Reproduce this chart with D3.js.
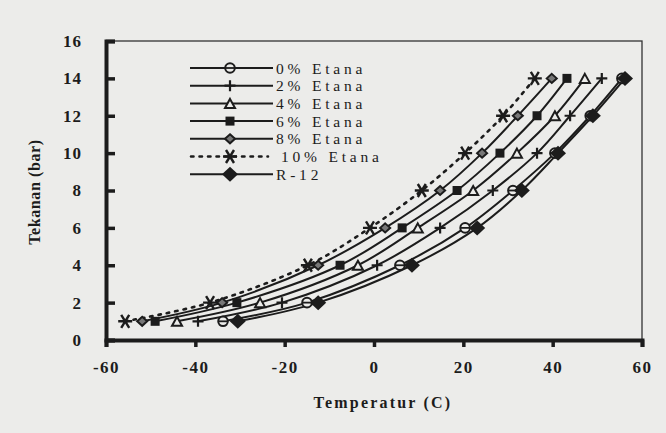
<!DOCTYPE html>
<html>
<head>
<meta charset="utf-8">
<script src="https://cdn.jsdelivr.net/npm/d3@7"></script>
<style>
  html, body { margin: 0; padding: 0; background: #ececea; }
  svg { display: block; }
</style>
</head>
<body>
<svg id="chart" width="666" height="433"></svg>
<script>
// ---- data ----
const pressures = [1, 2, 4, 6, 8, 10, 12, 14];
const seriesNames = ["0% Etana", "2% Etana", "4% Etana", "6% Etana", "8% Etana", "10% Etana", "R-12"];
const temp0 = [-33.8, -15.0, 5.8, 20.4, 31.1, 40.5, 48.4, 55.5];
const temp2 = [-39.4, -20.6, 0.7, 14.8, 26.6, 36.5, 43.9, 51.0];
const temp4 = [-44.1, -25.5, -3.6, 9.8, 22.2, 32.0, 40.5, 47.2];
const temp6 = [-49.0, -30.7, -7.6, 6.3, 18.6, 28.2, 36.5, 43.2];
const temp8 = [-51.9, -34.0, -12.5, 2.5, 14.8, 24.2, 32.2, 39.8];
const temp10 = [-55.7, -36.7, -14.8, -0.9, 10.7, 20.4, 28.9, 36.0];
const tempR12 = [-30.5, -12.5, 8.5, 23.1, 33.1, 41.2, 49.0, 56.2];
const xTicks = [-60, -40, -20, 0, 20, 40, 60];
const yTicks = [0, 2, 4, 6, 8, 10, 12, 14, 16];
const xTitle = "Temperatur (C)";
const yTitle = "Tekanan (bar)";

const allTemps = [temp0, temp2, temp4, temp6, temp8, temp10, tempR12];
const markerTypes = ["circle", "plus", "triangle", "square", "smalldiamond", "asterisk", "diamond"];

// ---- layout ----
const svg = d3.select("#chart");
const W = 666, H = 433;
const m = { left: 106, top: 41, right: 24, bottom: 93 };
const x = d3.scaleLinear().domain([-60, 60]).range([m.left, W - m.right]);
const y = d3.scaleLinear().domain([0, 16]).range([H - m.bottom, m.top]);
const ink = "#1c1c1c";
const bg = "#ececea";
const serif = "'Liberation Serif', 'DejaVu Serif', serif";

// frame (thin top & right)
svg.append("rect")
  .attr("x", x(-60)).attr("y", y(16))
  .attr("width", x(60) - x(-60)).attr("height", y(0) - y(16))
  .attr("fill", "none").attr("stroke", "#333").attr("stroke-width", 1.3);

// axes
const xAxis = d3.axisBottom(x).tickValues(xTicks).tickSize(7).tickPadding(14)
  .tickFormat(d3.format("d"));
const gx = svg.append("g").attr("transform", `translate(0,${y(0)})`).call(xAxis);
gx.select(".domain").attr("stroke", ink).attr("stroke-width", 4);
gx.selectAll(".tick line").attr("stroke", ink).attr("stroke-width", 3.5);
gx.selectAll(".tick text").attr("fill", ink)
  .style("font-family", serif).style("font-size", "17px").style("font-weight", "bold")
  .style("letter-spacing", "1.5px")
  .text(d => (d < 0 ? "-" + Math.abs(d) : d));

const yAxis = d3.axisLeft(y).tickValues(yTicks).tickSize(-9).tickPadding(24)
  .tickFormat(d3.format("d"));
const gy = svg.append("g").attr("transform", `translate(${x(-60)},0)`).call(yAxis);
gy.select(".domain").attr("stroke", ink).attr("stroke-width", 4);
gy.selectAll(".tick line").attr("stroke", ink).attr("stroke-width", 3.5);
gy.selectAll(".tick text").attr("fill", ink)
  .style("font-family", serif).style("font-size", "17px").style("font-weight", "bold")
  .style("letter-spacing", "1px");

// axis titles
svg.append("text")
  .attr("x", 383).attr("y", 408).attr("text-anchor", "middle")
  .attr("fill", ink)
  .style("font-family", serif).style("font-size", "16px").style("font-weight", "bold")
  .style("letter-spacing", "2.2px")
  .text(xTitle);
svg.append("text")
  .attr("transform", `translate(40,192) rotate(-90)`)
  .attr("text-anchor", "middle").attr("fill", ink)
  .style("font-family", serif).style("font-size", "16px").style("font-weight", "bold")
  .style("letter-spacing", "0.6px")
  .text(yTitle);

// ---- markers ----
function drawMarker(g, type, cx, cy) {
  const s = g.append("g").attr("transform", `translate(${cx},${cy})`);
  switch (type) {
    case "circle":
      s.append("circle").attr("r", 4.8).attr("fill", bg).attr("stroke", ink).attr("stroke-width", 2);
      s.append("line").attr("x1", -5).attr("x2", 5).attr("stroke", ink).attr("stroke-width", 1.8);
      break;
    case "plus":
      s.append("path").attr("d", "M-5.5,0H5.5M0,-5.5V5.5").attr("stroke", ink).attr("stroke-width", 2.2);
      break;
    case "triangle":
      s.append("path").attr("d", "M0,-4.5L5,4.5H-5Z").attr("fill", bg).attr("stroke", ink).attr("stroke-width", 2);
      break;
    case "square":
      s.append("rect").attr("x", -4.5).attr("y", -4.5).attr("width", 9).attr("height", 9).attr("fill", ink);
      break;
    case "smalldiamond":
      s.append("path").attr("d", "M0,-4.5L5,0L0,4.5L-5,0Z").attr("fill", "#777").attr("stroke", ink).attr("stroke-width", 2);
      break;
    case "asterisk":
      s.append("path").attr("d", "M-7,0H7M-4,-6.5L4,6.5M4,-6.5L-4,6.5").attr("stroke", ink).attr("stroke-width", 2.4);
      break;
    case "diamond":
      s.append("path").attr("d", "M0,-7.5L8,0L0,7.5L-8,0Z").attr("fill", ink);
      break;
  }
}

// ---- series lines ----
const line = d3.line().x(d => x(d[0])).y(d => y(d[1])).curve(d3.curveCatmullRom.alpha(0.5));
const plot = svg.append("g");
allTemps.forEach((temps, i) => {
  const pts = temps.map((t, j) => [t, pressures[j]]);
  plot.append("path").datum(pts)
    .attr("d", line)
    .attr("fill", "none")
    .attr("stroke", ink)
    .attr("stroke-width", i === 5 ? 2.6 : 2)
    .attr("stroke-dasharray", i === 5 ? "2.5,6" : null)
    .attr("stroke-linecap", i === 5 ? "round" : "butt");
});
allTemps.forEach((temps, i) => {
  temps.forEach((t, j) => drawMarker(plot, markerTypes[i], x(t), y(pressures[j])));
});

// ---- legend ----
const legend = svg.append("g");
const legY0 = 68, legDy = 17.7;
seriesNames.forEach((name, i) => {
  const ly = legY0 + i * legDy;
  if (i === 5) {
    legend.append("line").attr("x1", 191).attr("x2", 268).attr("y1", ly).attr("y2", ly)
      .attr("stroke", ink).attr("stroke-width", 2.6).attr("stroke-dasharray", "2.5,6").attr("stroke-linecap", "round");
  } else {
    legend.append("line").attr("x1", 190).attr("x2", 273).attr("y1", ly).attr("y2", ly)
      .attr("stroke", ink).attr("stroke-width", 2);
  }
  drawMarker(legend, markerTypes[i], 230, ly);
  legend.append("text")
    .attr("x", i === 5 ? 281 : 276).attr("y", ly + 5.5)
    .attr("fill", ink)
    .style("font-family", serif).style("font-size", "15.5px")
    .style("letter-spacing", "3.8px")
    .text(name);
});
</script>
</body>
</html>
